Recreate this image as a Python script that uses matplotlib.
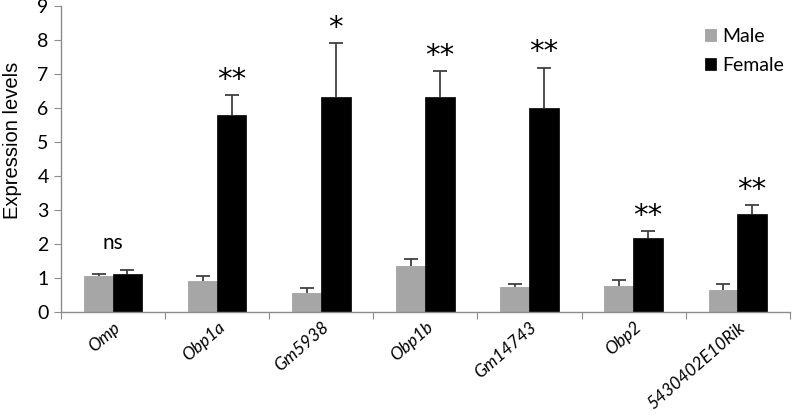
import matplotlib
matplotlib.use("Agg")
import matplotlib.pyplot as plt
import numpy as np

genes = ["Omp", "Obp1a", "Gm5938", "Obp1b", "Gm14743", "Obp2", "5430402E10Rik"]
male = [1.08, 0.92, 0.56, 1.37, 0.73, 0.76, 0.67]
male_err = [0.06, 0.16, 0.15, 0.21, 0.11, 0.18, 0.16]
female = [1.14, 5.78, 6.33, 6.33, 6.01, 2.17, 2.88]
female_err = [0.09, 0.60, 1.57, 0.75, 1.17, 0.21, 0.27]
signif = ["ns", "**", "*", "**", "**", "**", "**"]
yticks = list(range(0, 10))

plt.rcParams['font.family'] = ['Lato', 'DejaVu Sans']

fig = plt.figure(figsize=(7.93, 4.17), dpi=100)
ax = fig.add_axes([0.077, 0.251, 0.919, 0.735])

x = np.arange(len(genes)) + 0.5
w = 0.285
off = 0.138
spine_col = "#8c8c8c"

ax.bar(x - off, male, width=w, color="#a6a6a6", edgecolor="#999999",
       linewidth=0.5, label="Male", zorder=2)
ax.bar(x + off, female, width=w, color="black", edgecolor="black",
       linewidth=0.5, label="Female", zorder=2)
for xs, vals, errs in [(x - off, male, male_err), (x + off, female, female_err)]:
    _, caps, _ = ax.errorbar(xs, vals, yerr=[np.zeros(len(vals)), errs], fmt="none",
                             ecolor="#404040", elinewidth=1.3, capsize=5,
                             capthick=1.3, zorder=3)
    caps[0].set_visible(False)  # only the upper whisker

# significance marks
for i, s in enumerate(signif):
    if s == "ns":
        top = max(male[i] + male_err[i], female[i] + female_err[i])
        ax.text(x[i], top + 0.8, s, ha="center", va="center", fontsize=15)
    else:
        top = female[i] + female_err[i]
        ax.text(x[i] + off, top + 0.45, s, ha="center", va="center",
                fontsize=21, family="DejaVu Sans")

ax.set_xlim(0, len(genes))
ax.set_ylim(0, 9)
ax.set_yticks(yticks)
ax.set_yticklabels([str(t) for t in yticks], fontsize=14)
ax.set_xticks(np.arange(len(genes) + 1), minor=False)
ax.set_xticklabels([])
ax.set_xticks(x, minor=True)
ax.set_xticklabels(genes, minor=True, rotation=41, ha="right",
                   rotation_mode="anchor", fontstyle="italic", fontsize=12.5)
ax.tick_params(axis="x", which="minor", length=0, pad=5)
ax.tick_params(axis="x", which="major", length=5, color=spine_col, direction="out")
ax.tick_params(axis="y", length=5, color=spine_col, direction="out", pad=4)

for sp in ["top", "right"]:
    ax.spines[sp].set_visible(False)
for sp in ["left", "bottom"]:
    ax.spines[sp].set_color(spine_col)
    ax.spines[sp].set_linewidth(1)

ax.set_ylabel("Expression levels", fontsize=14.5, family="Liberation Sans")
ax.yaxis.set_label_coords(-0.054, 0.5625)

ax.legend(loc="upper left", bbox_to_anchor=(0.86, 0.985), frameon=False,
          fontsize=14, handlelength=0.55, handleheight=0.55, handletextpad=0.3,
          labelspacing=0.6)

fig.savefig("out.png", dpi=100)
